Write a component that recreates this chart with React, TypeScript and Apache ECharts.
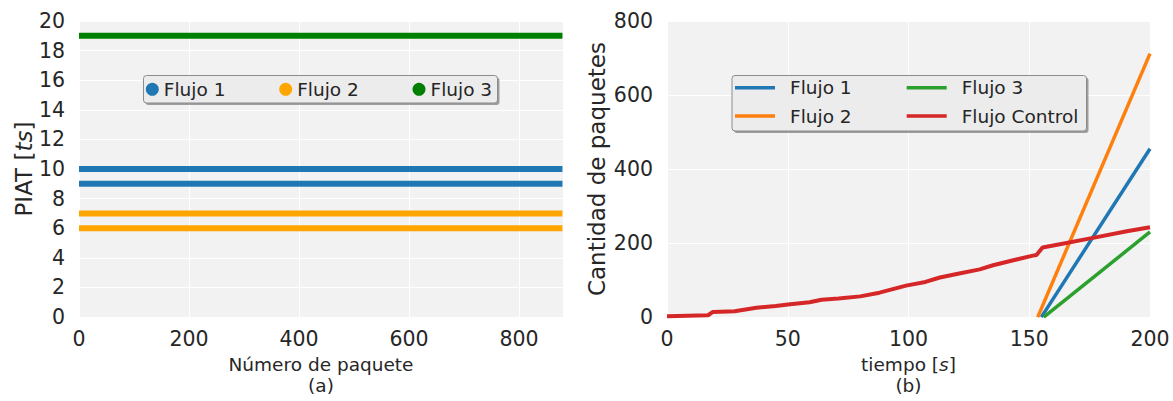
import React, { useEffect, useRef } from "react";
import * as echarts from "echarts";

// ---------- data ----------
const packetRange = [0, 879];
const flujo1PIAT = [10, 9];
const flujo2PIAT = [7, 6];
const flujo3PIAT = [19];

const flujo1Time = [155, 200];
const flujo1Packets = [0, 455];
const flujo2Time = [153.5, 200];
const flujo2Packets = [0, 712];
const flujo3Time = [156, 200];
const flujo3Packets = [0, 230];
const controlTime = [0, 17, 19, 28, 37, 45, 51, 59, 64, 71, 80, 88, 99, 107, 113, 121, 129.5, 135, 143, 151.5, 153, 155.5, 162.7, 176.4, 190.4, 200];
const controlPackets = [2, 5, 14, 16, 25, 30, 35, 40, 47, 50, 56, 66, 85, 95, 107, 118, 129, 140, 153, 166, 168, 188, 197, 214, 232, 243];

const leftYTicks = { min: 0, max: 20, interval: 2 };
const leftXTicks = { min: 0, max: 880, interval: 200 };
const rightYTicks = { min: 0, max: 800, interval: 200 };
const rightXTicks = { min: 0, max: 200, interval: 50 };

const FONT = "DejaVu Sans";
const TXT = "#262626";

const zip = (xs: number[], ys: number[]) => xs.map((x, i) => [x, ys[i]]);

export default function App() {
  const ref = useRef<HTMLDivElement>(null);
  useEffect(() => {
    if (!ref.current) return;
    const chart = echarts.init(ref.current, undefined, { renderer: "svg" });

    const axisCommon = {
      axisLine: { show: false },
      axisTick: { show: false },
      splitLine: { show: true, lineStyle: { color: "#ffffff", width: 1 } },
    };
    const tickLabel = (margin: number, extra: any = {}) => ({
      color: TXT,
      fontSize: 20.5,
      fontFamily: FONT,
      margin,
      ...extra,
    });
    const nameStyle = (size: number, lh: number) => ({
      color: TXT,
      fontSize: size,
      fontFamily: FONT,
      lineHeight: lh,
      rich: {
        i: { fontStyle: "italic", fontSize: size, fontFamily: FONT, color: TXT, lineHeight: lh },
      },
    });

    const leftSeries: any[] = [];
    const hLine = (name: string, color: string, v: number) => ({
      type: "line",
      name,
      xAxisIndex: 0,
      yAxisIndex: 0,
      data: packetRange.map((x) => [x, v]),
      showSymbol: false,
      symbol: "none",
      lineStyle: { color, width: 6 },
      itemStyle: { color },
      z: 2,
    });
    flujo1PIAT.forEach((v) => leftSeries.push(hLine("Flujo 1", "#1f77b4", v)));
    flujo2PIAT.forEach((v) => leftSeries.push(hLine("Flujo 2", "#ffa500", v)));
    flujo3PIAT.forEach((v) => leftSeries.push(hLine("Flujo 3", "#008000", v)));

    const rLine = (name: string, color: string, xs: number[], ys: number[], w: number) => ({
      type: "line",
      name,
      xAxisIndex: 1,
      yAxisIndex: 1,
      data: zip(xs, ys),
      showSymbol: false,
      symbol: "none",
      lineStyle: { color, width: w },
      itemStyle: { color },
      z: 2,
    });
    const rightSeries = [
      rLine("Flujo 1", "#1f77b4", flujo1Time, flujo1Packets, 3.5),
      rLine("Flujo 2", "#ff7f0e", flujo2Time, flujo2Packets, 3.5),
      rLine("Flujo 3", "#2ca02c", flujo3Time, flujo3Packets, 3.5),
      rLine("Flujo Control", "#d62728", controlTime, controlPackets, 4),
    ];

    const legendText = { color: TXT, fontSize: 18.5, fontFamily: FONT, lineHeight: 20 };
    const dotLegend = (name: string, color: string, cx: number, cy: number) => ({
      show: true,
      selectedMode: false,
      left: cx - 6.5,
      top: cy - 10,
      padding: 0,
      itemWidth: 13,
      itemHeight: 13,
      icon: "circle",
      textStyle: legendText,
      data: [{ name, icon: "circle", itemStyle: { color, borderWidth: 0 } }],
      z: 6,
    });
    const lineLegend = (name: string, color: string, x0: number, cy: number) => ({
      show: true,
      selectedMode: false,
      left: x0,
      top: cy - 10,
      padding: 0,
      itemWidth: 40,
      itemHeight: 3.5,
      icon: "rect",
      textStyle: { ...legendText, padding: [0, 0, 0, 10] },
      data: [{ name, icon: "rect", itemStyle: { color, borderWidth: 0 } }],
      z: 6,
    });

    const box = (x: number, y: number, w: number, h: number) => [
      {
        type: "rect",
        shape: { x: x + 2, y: y + 2, width: w, height: h, r: 3 },
        style: { fill: "rgba(0,0,0,0.35)" },
        z: 3,
        silent: true,
      },
      {
        type: "rect",
        shape: { x, y, width: w, height: h, r: 3 },
        style: { fill: "#ececec", stroke: "#8c8c8c", lineWidth: 1 },
        z: 4,
        silent: true,
      },
    ];

    chart.setOption({
      animation: false,
      backgroundColor: "#ffffff",
      textStyle: { fontFamily: FONT },
      grid: [
        { left: 79, right: 610, top: 21, bottom: 78.5, show: true, backgroundColor: "#f2f2f2", borderWidth: 0, containLabel: false },
        { left: 667, right: 23, top: 21, bottom: 78.5, show: true, backgroundColor: "#f2f2f2", borderWidth: 0, containLabel: false },
      ],
      xAxis: [
        {
          type: "value",
          gridIndex: 0,
          ...leftXTicks,
          ...axisCommon,
          axisLabel: tickLabel(11, { showMaxLabel: false }),
          name: "Número de paquete\n(a)",
          nameLocation: "middle",
          nameGap: 36,
          nameTextStyle: nameStyle(18.5, 21),
        },
        {
          type: "value",
          gridIndex: 1,
          ...rightXTicks,
          ...axisCommon,
          axisLabel: tickLabel(11),
          name: "tiempo [{i|s}]\n(b)",
          nameLocation: "middle",
          nameGap: 36,
          nameTextStyle: nameStyle(18.5, 21),
        },
      ],
      yAxis: [
        {
          type: "value",
          gridIndex: 0,
          ...leftYTicks,
          ...axisCommon,
          axisLabel: tickLabel(14),
          name: "PIAT [{i|ts}]",
          nameLocation: "middle",
          nameGap: 43.5,
          nameTextStyle: nameStyle(23, 23),
        },
        {
          type: "value",
          gridIndex: 1,
          ...rightYTicks,
          ...axisCommon,
          axisLabel: tickLabel(14),
          name: "Cantidad de paquetes",
          nameLocation: "middle",
          nameGap: 58.5,
          nameTextStyle: nameStyle(23, 23),
        },
      ],
      legend: [
        dotLegend("Flujo 1", "#1f77b4", 152.3, 89.3),
        dotLegend("Flujo 2", "#ffa500", 285.7, 89.3),
        dotLegend("Flujo 3", "#008000", 419, 89.3),
        lineLegend("Flujo 1", "#1f77b4", 735, 87.7),
        lineLegend("Flujo 2", "#ff7f0e", 735, 116),
        lineLegend("Flujo 3", "#2ca02c", 906.7, 87.7),
        lineLegend("Flujo Control", "#d62728", 906.7, 116),
      ],
      graphic: [...box(143.5, 75.5, 354, 27.5), ...box(732, 75.5, 354.5, 55.5)],
      series: [...leftSeries, ...rightSeries],
    });

    return () => chart.dispose();
  }, []);

  return (
    <div
      ref={ref}
      style={{ position: "fixed", left: 0, top: 0, width: 1173, height: 401, background: "#fff" }}
    />
  );
}
